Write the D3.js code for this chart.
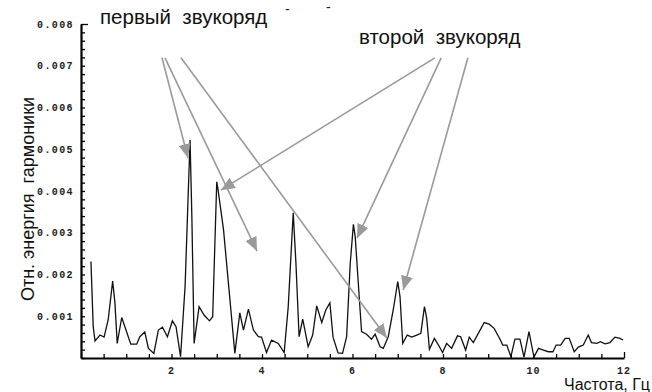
<!DOCTYPE html>
<html><head><meta charset="utf-8">
<script src="https://cdn.jsdelivr.net/npm/d3@7"></script>
<style>body{margin:0;background:#fff}svg{display:block}</style>
</head><body>
<script>
// Frequency (Hz) of each spectrum vertex
const freq = [0.22,0.27,0.31,0.42,0.51,0.60,0.70,0.75,0.80,0.90,0.97,1.10,1.23,1.30,1.41,1.49,1.61,1.71,1.80,1.91,2.02,2.10,2.20,2.30,2.41,2.45,2.50,2.61,2.72,2.84,2.91,3.00,3.03,3.15,3.40,3.51,3.59,3.70,3.81,3.92,3.99,4.10,4.21,4.36,4.49,4.58,4.69,4.75,4.82,4.90,5.02,5.12,5.21,5.32,5.41,5.50,5.57,5.68,5.78,5.87,5.95,6.02,6.06,6.20,6.31,6.42,6.50,6.61,6.68,6.79,6.90,7.00,7.05,7.11,7.21,7.31,7.42,7.51,7.59,7.64,7.70,7.81,7.90,7.99,8.08,8.19,8.32,8.39,8.50,8.58,8.67,8.78,8.91,9.02,9.13,9.26,9.32,9.41,9.50,9.59,9.70,9.79,9.90,10.01,10.11,10.22,10.33,10.43,10.50,10.60,10.70,10.79,10.90,10.99,11.10,11.21,11.28,11.40,11.48,11.58,11.69,11.80,11.91,11.98];
// Relative harmonic energy at each vertex
const energy = [0.00231,0.00075,0.00041,0.00055,0.00050,0.00091,0.00184,0.00132,0.00035,0.00097,0.00075,0.00033,0.00033,0.00051,0.00062,0.00023,0.00011,0.00067,0.00074,0.00051,0.00089,0.00075,0.00003,0.00171,0.00522,0.00338,0.00035,0.00123,0.00103,0.00089,0.00099,0.00422,0.00402,0.00307,0.00011,0.00108,0.00067,0.00117,0.00067,0.00051,0.00050,0.00013,0.00043,0.00035,0.00013,0.00123,0.00348,0.00227,0.00051,0.00093,0.00027,0.00055,0.00125,0.00085,0.00115,0.00132,0.00050,0.00012,0.00011,0.00051,0.00227,0.00320,0.00290,0.00063,0.00057,0.00045,0.00057,0.00027,0.00023,0.00051,0.00115,0.00183,0.00147,0.00035,0.00055,0.00050,0.00055,0.00059,0.00123,0.00095,0.00021,0.00047,0.00031,0.00013,0.00035,0.00023,0.00053,0.00051,0.00019,0.00050,0.00037,0.00059,0.00085,0.00081,0.00071,0.00045,0.00031,0.00031,0.00003,0.00045,0.00045,0.00002,0.00063,0.00002,0.00023,0.00019,0.00015,0.00015,0.00031,0.00031,0.00047,0.00047,0.00015,0.00026,0.00031,0.00055,0.00037,0.00035,0.00039,0.00034,0.00037,0.00050,0.00047,0.00043];

const xTickLabels = [2,4,6,8,10,12];
const yTickLabels = [0.001,0.002,0.003,0.004,0.005,0.006,0.007,0.008];
const xMinorStep = 0.5;
const yMinorStep = 0.0002;

// Annotation arrows: [startFreq, startEnergy, tipFreq, tipEnergy]
const arrowsFirst  = [[1.79,0.00719,2.365,0.00479],[1.856,0.00719,3.89,0.00256],[2.21,0.00719,6.76,0.00048]];
const arrowsSecond = [[7.82,0.00719,3.09,0.00402],[7.96,0.00719,6.10,0.00287],[8.55,0.00719,7.12,0.00163]];

const W = 652, H = 392;
const x = d3.scaleLinear().domain([0,12]).range([81,624]);
const y = d3.scaleLinear().domain([0,0.008]).range([358,24]);

const svg = d3.select("body").append("svg").attr("width",W).attr("height",H);

svg.append("defs").append("marker")
  .attr("id","ah").attr("markerUnits","userSpaceOnUse")
  .attr("viewBox","0 0 14 12").attr("refX",14).attr("refY",6)
  .attr("markerWidth",14).attr("markerHeight",12).attr("orient","auto")
  .append("path").attr("d","M0,0L14,6L0,12Z").attr("fill","#9a9a9a");

// Axes with d3's axis generators (ticks pointing inward, labels drawn separately)
const yTicks = d3.range(0, Math.round(0.008/yMinorStep)+1).map(i=>i*yMinorStep);
const xTicks = d3.range(0, Math.round(12/xMinorStep)+1).map(i=>i*xMinorStep);
const gy = svg.append("g").attr("transform","translate(" + x(0) + ",0)")
  .call(d3.axisRight(y).tickValues(yTicks).tickSize(4).tickSizeOuter(0).tickFormat(()=>""));
const gx = svg.append("g").attr("transform","translate(0," + y(0) + ")")
  .call(d3.axisTop(x).tickValues(xTicks).tickSize(4).tickSizeOuter(0).tickFormat(()=>""));
[gy,gx].forEach(g=>{
  g.selectAll(".domain").attr("stroke","#000").attr("stroke-width",2.2);
  g.selectAll(".tick line").attr("stroke","#000").attr("stroke-width",1.3);
});
gy.selectAll(".tick").filter(d=>Math.abs(d-0.008)<1e-9).select("line").attr("x2",7);
gx.selectAll(".tick").filter(d=>Math.abs(d-12)<1e-9).select("line").attr("y2",-6);

// Data line
const pts = freq.map((f,i)=>[f,energy[i]]);
svg.append("path").datum(pts)
  .attr("fill","none").attr("stroke","#111").attr("stroke-width",1.3)
  .attr("d", d3.line().x(d=>x(d[0])).y(d=>y(d[1])));

// tick labels
const tickFont = "'Liberation Mono','DejaVu Sans Mono',monospace";
svg.append("g").selectAll("text").data(yTickLabels).join("text")
  .attr("x",74).attr("y",d=>y(d)+3.5)
  .attr("text-anchor","end")
  .style("font-family",tickFont).style("font-size","10px").style("font-weight","bold")
  .style("letter-spacing","1.4px").attr("fill","#222")
  .text(d=>d3.format(".3f")(d));
svg.append("g").selectAll("text").data(xTickLabels).join("text")
  .attr("x",d=>x(d)).attr("y",374)
  .attr("text-anchor","middle")
  .style("font-family",tickFont).style("font-size","10px").style("font-weight","bold")
  .style("letter-spacing","1px").attr("fill","#222")
  .text(d=>d);

// Arrows
svg.append("g").selectAll("line").data(arrowsFirst.concat(arrowsSecond)).join("line")
  .attr("x1",d=>x(d[0])).attr("y1",d=>y(d[1]))
  .attr("x2",d=>x(d[2])).attr("y2",d=>y(d[3]))
  .attr("stroke","#9a9a9a").attr("stroke-width",1.6)
  .attr("marker-end","url(#ah)");

// Texts
const sans = "'Liberation Sans',Arial,sans-serif";
svg.append("text").attr("x",100).attr("y",24).style("white-space","pre")
  .style("font-family",sans).style("font-size","20.5px").attr("fill","#111")
  .text("первый  звукоряд");
svg.append("text").attr("x",359).attr("y",44).style("white-space","pre")
  .style("font-family",sans).style("font-size","20.5px").attr("fill","#111")
  .text("второй  звукоряд");
svg.append("text").attr("x",285).attr("y",14)
  .style("font-family",sans).style("font-size","14px").attr("fill","#222").text("-");
svg.append("text").attr("x",326).attr("y",12)
  .style("font-family",sans).style("font-size","14px").attr("fill","#222").text("-");
svg.append("text").attr("x",650).attr("y",390).attr("text-anchor","end")
  .style("font-family",sans).style("font-size","16px").attr("fill","#111")
  .text("Частота, Гц");
svg.append("text").attr("transform","translate(34,199) rotate(-90)")
  .attr("text-anchor","middle").style("white-space","pre")
  .style("font-family",sans).style("font-size","18px").attr("fill","#111")
  .text("Отн. энергия  гармоники");
</script>
</body></html>
